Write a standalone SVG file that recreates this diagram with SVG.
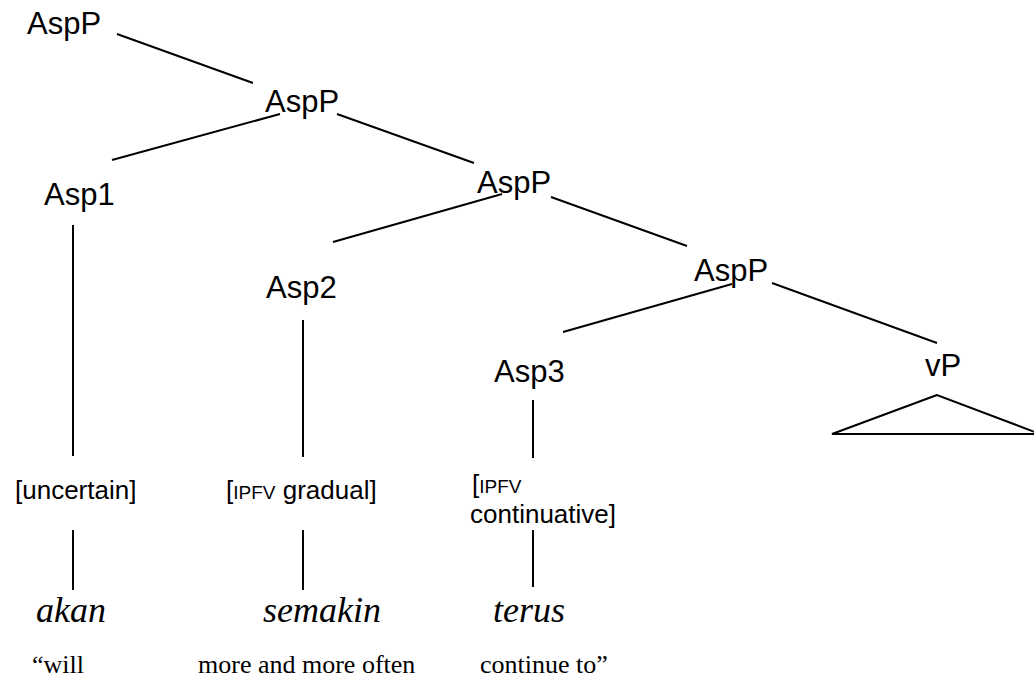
<svg xmlns="http://www.w3.org/2000/svg" width="1034" height="677" viewBox="0 0 1034 677">
<style>
.n{font-family:"Liberation Sans",Arial,sans-serif;font-size:31px;fill:#000}
.f{font-family:"Liberation Sans",Arial,sans-serif;font-size:26px;fill:#000}
.sc{font-size:19px}
.w{font-family:"Liberation Serif","Times New Roman",serif;font-style:italic;font-size:36px;fill:#000}
.g{font-family:"Liberation Serif","Times New Roman",serif;font-size:26px;fill:#000}
.e line,.e polygon{stroke:#000;stroke-width:2;fill:none}
</style>
<rect width="1034" height="677" fill="#fff"/>
<g class="e" id="connectors">
<line x1="117" y1="34" x2="253" y2="83"/>
<line x1="280" y1="114" x2="112" y2="160"/>
<line x1="337" y1="114" x2="474" y2="163"/>
<line x1="73" y1="225" x2="73" y2="456"/>
<line x1="502" y1="194" x2="333" y2="242"/>
<line x1="551" y1="197" x2="687" y2="246"/>
<line x1="303" y1="320" x2="303" y2="457"/>
<line x1="732" y1="284" x2="563" y2="332"/>
<line x1="772" y1="283" x2="937" y2="343"/>
<line x1="533" y1="400" x2="533" y2="458"/>
<polygon points="937,395 832,434 1040,434"/>
<line x1="73" y1="530" x2="73" y2="590"/>
<line x1="303" y1="530" x2="303" y2="590"/>
<line x1="533" y1="530" x2="533" y2="587"/>
</g>
<g id="AspP1"><text class="n" x="27" y="34">AspP</text></g>
<g id="AspP2"><text class="n" x="265" y="112">AspP</text></g>
<g id="Asp1"><text class="n" x="44" y="205">Asp1</text></g>
<g id="AspP3"><text class="n" x="477" y="193">AspP</text></g>
<g id="Asp2"><text class="n" x="266" y="298">Asp2</text></g>
<g id="AspP4"><text class="n" x="694" y="281">AspP</text></g>
<g id="Asp3"><text class="n" x="494" y="382">Asp3</text></g>
<g id="vP"><text class="n" x="925" y="376">vP</text></g>
<g id="f1"><text class="f" x="15" y="499">[uncertain]</text></g>
<g id="f2"><text class="f" x="226" y="499">[<tspan class="sc">IPFV</tspan> gradual]</text></g>
<g id="f3"><text class="f" x="472" y="493">[<tspan class="sc">IPFV</tspan></text><text class="f" x="470" y="523">continuative]</text></g>
<g id="w1"><text class="w" x="36" y="622">akan</text></g>
<g id="w2"><text class="w" x="263" y="622">semakin</text></g>
<g id="w3"><text class="w" x="493" y="622">terus</text></g>
<g id="gloss"><text class="g" x="32" y="673">“will</text><text class="g" x="198" y="673">more and more often</text><text class="g" x="480" y="673">continue to”</text></g>
</svg>
